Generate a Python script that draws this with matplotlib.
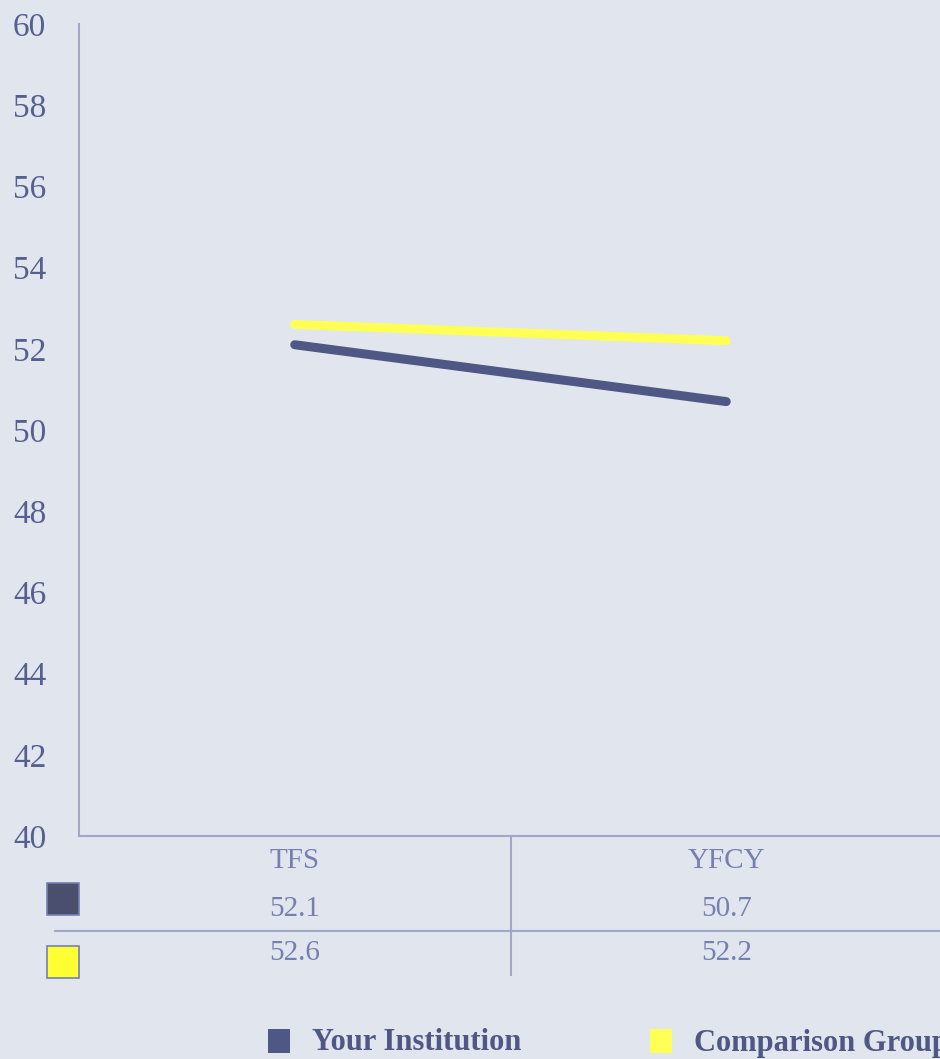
import numpy as np
import matplotlib.pyplot as plt
import matplotlib.transforms as mtransforms
from matplotlib.patches import Rectangle
from matplotlib.lines import Line2D

# data
categories = ['TFS', 'YFCY']
your_institution = [52.1, 50.7]
comparison_group = [52.6, 52.2]
series_names = ['Your Institution', 'Comparison Group']
yticks = [40, 42, 44, 46, 48, 50, 52, 54, 56, 58, 60]

bg = '#e1e5ee'
dark = '#4f5785'
yellow = '#ffff55'
axis_col = '#a3a7c6'
text_col = '#56608f'
table_col = '#7680b0'

plt.rcParams['font.family'] = ['Liberation Serif', 'DejaVu Serif']

fig = plt.figure(figsize=(9.4, 10.59), dpi=100, facecolor=bg)
ax = fig.add_axes([79/940, 1 - 836/1059, 863/940, 812/1059], facecolor=bg)

x = np.arange(len(categories)) + 0.5
ax.plot(x, your_institution, color=dark, lw=6.5, solid_capstyle='round')
ax.plot(x, comparison_group, color=yellow, lw=6.5, solid_capstyle='round')

ax.set_xlim(0, len(categories))
ax.set_ylim(40, 60)
ax.set_yticks(yticks)
ax.set_yticklabels([str(t) for t in yticks], fontsize=24, color=text_col)
ax.set_xticks([])
for s in ['top', 'right']:
    ax.spines[s].set_visible(False)
for s in ['left', 'bottom']:
    ax.spines[s].set_color(axis_col)
    ax.spines[s].set_linewidth(1.5)
for lab in ax.get_yticklabels():
    lab.set_horizontalalignment('left')
    lab.set_x(-79/863 + 13/863)
ax.tick_params(axis='y', length=0, pad=0)

# data table below the axis
trans = mtransforms.blended_transform_factory(ax.transData, fig.transFigure)
def fy(py):
    return 1 - py / 1059

for i, c in enumerate(categories):
    ax.text(x[i], fy(861), c, transform=trans, ha='center', va='center',
            fontsize=21, color=table_col, clip_on=False)
    ax.text(x[i], fy(909), '%.1f' % your_institution[i], transform=trans,
            ha='center', va='center', fontsize=21, color=table_col, clip_on=False)
    ax.text(x[i], fy(953), '%.1f' % comparison_group[i], transform=trans,
            ha='center', va='center', fontsize=21, color=table_col, clip_on=False)

for b in range(1, len(categories)):
    fig.add_artist(Line2D([b, b], [fy(836), fy(975)], transform=trans,
                          color=axis_col, lw=1.5))
fig.add_artist(Line2D([55/940, 1], [fy(931), fy(931)], transform=fig.transFigure,
                      color=axis_col, lw=1.5))

fig.add_artist(Rectangle((47/940, fy(915)), 32/940, 32/1059, transform=fig.transFigure,
                         facecolor='#4a4f6e', edgecolor=table_col, lw=1.2))
fig.add_artist(Rectangle((47/940, fy(978)), 32/940, 32/1059, transform=fig.transFigure,
                         facecolor='#ffff33', edgecolor=table_col, lw=1.2))

# legend at the bottom
fig.add_artist(Rectangle((268/940, fy(1053)), 22/940, 24/1059, transform=fig.transFigure,
                         facecolor=dark, edgecolor='none'))
fig.text(312/940, fy(1043), series_names[0], fontsize=22, fontweight='bold',
         color=dark, va='center', ha='left')
fig.add_artist(Rectangle((650/940, fy(1053)), 22/940, 24/1059, transform=fig.transFigure,
                         facecolor=yellow, edgecolor='none'))
fig.text(694/940, fy(1043), series_names[1], fontsize=22, fontweight='bold',
         color=dark, va='center', ha='left')

fig.savefig('out.png', dpi=100, facecolor=bg)
